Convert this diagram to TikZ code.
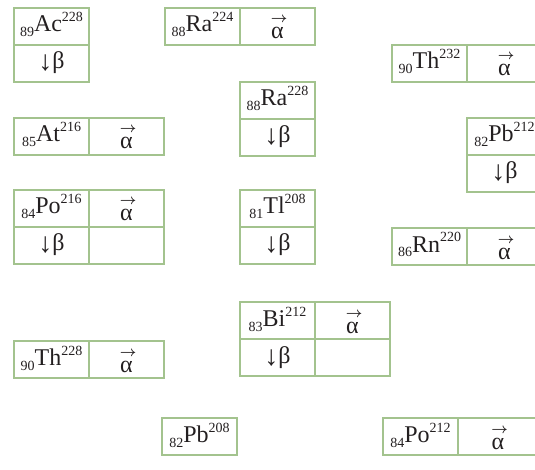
\documentclass[tikz,border=0pt]{standalone}
\usepackage{fontspec}
\setmainfont{Liberation Serif}
\usetikzlibrary{positioning}
\definecolor{sage}{HTML}{A3C38E}
\definecolor{ink}{HTML}{231F20}
\newcommand{\nuc}[3]{\raisebox{-5pt}{\fontsize{14}{14}\selectfont #1}#2\raisebox{10pt}{\fontsize{14}{14}\selectfont #3}}
\newcommand{\valpha}{\makebox[0pt][l]{\makebox[16pt]{\raisebox{16pt}{\fontsize{14}{14}\selectfont\boldmath$\rightarrow$}}}α}
\newcommand{\dbeta}{\raisebox{-2pt}{\fontsize{28}{28}\selectfont ↓}β}

\begin{document}
\begin{tikzpicture}[
  x=1pt, y=-1pt,
  cell/.style={draw=sage, line width=2.5pt, minimum width=75pt, minimum height=37pt,
               inner sep=0pt, outer sep=0pt, text=ink, font=\fontsize{24}{28}\selectfont},
  nuclide/.style={cell, text height=24pt, text depth=13pt},
  decay/.style={cell, text height=24pt, text depth=13pt},
  alphacell/.style={cell, text height=31pt, text depth=6pt},
  node distance=0pt
]
\useasboundingbox (0,0) rectangle (535,470);
\clip (0,0) rectangle (535,470);

\node[nuclide, anchor=north west] (ac) at (14,8) {\nuc{89}{Ac}{228}};
\node[decay, below=of ac] (acBeta) {\dbeta};

\node[nuclide, anchor=north west] (ra224) at (165,8) {\nuc{88}{Ra}{224}};
\node[alphacell, right=of ra224] (ra224Alpha) {\valpha};

\node[nuclide, anchor=north west] (th232) at (392,45) {\nuc{90}{Th}{232}};
\node[alphacell, right=of th232] (th232Alpha) {\valpha};

\node[nuclide, anchor=north west] (ra228) at (240,82) {\nuc{88}{Ra}{228}};
\node[decay, below=of ra228] (ra228Beta) {\dbeta};

\node[nuclide, anchor=north west] (at216) at (14,118) {\nuc{85}{At}{216}};
\node[alphacell, right=of at216] (at216Alpha) {\valpha};

\node[nuclide, anchor=north west] (pb212) at (467,118) {\nuc{82}{Pb}{212}};
\node[decay, below=of pb212] (pb212Beta) {\dbeta};

\node[nuclide, anchor=north west] (po216) at (14,190) {\nuc{84}{Po}{216}};
\node[alphacell, right=of po216] (po216Alpha) {\valpha};
\node[decay, below=of po216] (po216Beta) {\dbeta};
\node[decay, below=of po216Alpha] (po216Empty) {};

\node[nuclide, anchor=north west] (tl208) at (240,190) {\nuc{81}{Tl}{208}};
\node[decay, below=of tl208] (tl208Beta) {\dbeta};

\node[nuclide, anchor=north west] (rn220) at (392,228) {\nuc{86}{Rn}{220}};
\node[alphacell, right=of rn220] (rn220Alpha) {\valpha};

\node[nuclide, anchor=north west] (bi212) at (240,302) {\nuc{83}{Bi}{212}};
\node[alphacell, right=of bi212] (bi212Alpha) {\valpha};
\node[decay, below=of bi212] (bi212Beta) {\dbeta};
\node[decay, below=of bi212Alpha] (bi212Empty) {};

\node[nuclide, anchor=north west] (th228) at (14,341) {\nuc{90}{Th}{228}};
\node[alphacell, right=of th228] (th228Alpha) {\valpha};

\node[nuclide, anchor=north west] (pb208) at (162,418) {\nuc{82}{Pb}{208}};

\node[nuclide, anchor=north west] (po212) at (383,418) {\nuc{84}{Po}{212}};
\node[alphacell, right=of po212, minimum width=80pt] (po212Alpha) {\valpha};

\end{tikzpicture}
\end{document}
